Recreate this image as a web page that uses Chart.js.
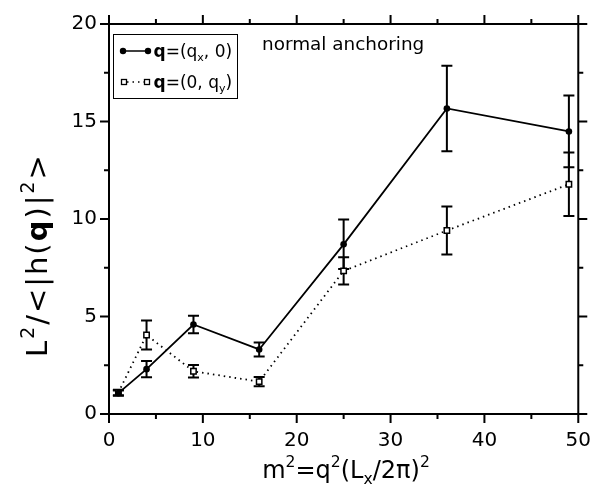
<!DOCTYPE html>
<html>
<head>
<meta charset="utf-8">
<script src="https://cdn.jsdelivr.net/npm/chart.js@4.4.0/dist/chart.umd.min.js"></script>
<style>
  html, body { margin: 0; padding: 0; background: #fff; }
  #wrap { width: 606px; height: 493px; }
</style>
</head>
<body>
<div id="wrap"><canvas id="myChart" width="606" height="493"></canvas></div>
<script>
// du lieu doc tu hinh
const m2 = [1, 4, 9, 16, 25, 36, 49];
const qxVals = [1.07, 2.30, 4.59, 3.31, 8.70, 15.67, 14.49];
const qxErr = [0.13, 0.42, 0.45, 0.36, 1.27, 2.19, 1.84];
const qyVals = [1.10, 4.05, 2.19, 1.66, 7.34, 9.41, 11.78];
const qyErr = [0.14, 0.74, 0.32, 0.24, 0.70, 1.23, 1.63];

const xTicks = [0, 10, 20, 30, 40, 50];
const yTicks = [0, 5, 10, 15, 20];
const xMinorTicks = [5, 15, 25, 35, 45];
const yMinorTicks = [2.5, 7.5, 12.5, 17.5];

const FONT = '"DejaVu Sans", sans-serif';

// ve chu co chi so tren / duoi
function drawRich(ctx, parts, x, y, size, measureOnly, spacing) {
    let cx = x;
    const sp = spacing || 0;
    parts.forEach(([t, st]) => {
        let fs = size, dy = 0, w = 'normal';
        if (st === 'sup') { fs = size * 0.65; dy = -size * 0.45; }
        if (st === 'sub') { fs = size * 0.65; dy = size * 0.25; }
        if (st === 'b') w = 'bold';
        ctx.font = w + ' ' + fs + 'px ' + FONT;
        for (const ch of t) {
            if (!measureOnly) ctx.fillText(ch, cx, y + dy);
            cx += ctx.measureText(ch).width + sp;
        }
    });
    return cx - x - sp;
}

const framePlugin = {
    id: 'frame',
    beforeDatasetsDraw(chart) {
        const ctx = chart.ctx;
        const a = chart.chartArea;
        const xs = chart.scales.x, ys = chart.scales.y;
        ctx.save();
        ctx.strokeStyle = '#000';
        ctx.lineWidth = 2;
        ctx.strokeRect(a.left, a.top, a.right - a.left, a.bottom - a.top);
        ctx.beginPath();
        const tick = (vals, len) => {
            vals.forEach(v => {
                const px = xs.getPixelForValue(v);
                ctx.moveTo(px, a.bottom); ctx.lineTo(px, a.bottom + len);
                ctx.moveTo(px, a.top); ctx.lineTo(px, a.top - len);
            });
        };
        const tickY = (vals, len) => {
            vals.forEach(v => {
                const py = ys.getPixelForValue(v);
                ctx.moveTo(a.left, py); ctx.lineTo(a.left - len, py);
                ctx.moveTo(a.right, py); ctx.lineTo(a.right + len, py);
            });
        };
        tick(xTicks, 9); tick(xMinorTicks, 5);
        tickY(yTicks, 9); tickY(yMinorTicks, 5);
        ctx.stroke();

        // thanh sai so
        chart.data.datasets.forEach((ds, i) => {
            ctx.lineWidth = 2;
            ctx.beginPath();
            ds.data.forEach((p, j) => {
                const px = xs.getPixelForValue(p.x);
                const y1 = ys.getPixelForValue(p.y + ds.err[j]);
                const y2 = ys.getPixelForValue(p.y - ds.err[j]);
                ctx.moveTo(px, y1); ctx.lineTo(px, y2);
                ctx.moveTo(px - 5.5, y1); ctx.lineTo(px + 5.5, y1);
                ctx.moveTo(px - 5.5, y2); ctx.lineTo(px + 5.5, y2);
            });
            ctx.stroke();
        });
        ctx.restore();
    },
    afterDraw(chart) {
        const ctx = chart.ctx;
        ctx.save();
        ctx.fillStyle = '#000';
        ctx.strokeStyle = '#000';
        ctx.textBaseline = 'alphabetic';
        ctx.textAlign = 'left';

        // chu thich
        ctx.lineWidth = 1;
        ctx.strokeRect(113.5, 34.5, 124, 64);
        ctx.lineWidth = 1.5;
        ctx.beginPath(); ctx.moveTo(123, 51); ctx.lineTo(148, 51); ctx.stroke();
        [123, 148].forEach(x => { ctx.beginPath(); ctx.arc(x, 51, 3.2, 0, Math.PI * 2); ctx.fill(); });
        ctx.setLineDash([1.5, 4]);
        ctx.beginPath(); ctx.moveTo(127, 82); ctx.lineTo(144, 82); ctx.stroke();
        ctx.setLineDash([]);
        ctx.lineWidth = 1.3;
        [124, 147].forEach(x => {
            ctx.fillStyle = '#fff'; ctx.fillRect(x - 2.5, 79.5, 5, 5);
            ctx.strokeRect(x - 2.5, 79.5, 5, 5);
        });
        ctx.fillStyle = '#000';
        drawRich(ctx, [['q', 'b'], ['=(q', ''], ['x', 'sub'], [', 0)', '']], 153.5, 56.5, 17);
        drawRich(ctx, [['q', 'b'], ['=(0, q', ''], ['y', 'sub'], [')', '']], 153.5, 87.5, 17);

        ctx.font = '18.4px ' + FONT;
        ctx.fillText('normal anchoring', 262, 50);

        // tieu de truc x
        const xt = [['m', ''], ['2', 'sup'], ['=q', ''], ['2', 'sup'], ['(L', ''], ['x', 'sub'], ['/2\u03c0)', ''], ['2', 'sup']];
        const wx = drawRich(ctx, xt, 0, 0, 24, true);
        drawRich(ctx, xt, 346 - wx / 2, 478, 24);

        // tieu de truc y
        const yt = [['L', ''], ['2', 'sup'], ['/<|h(', ''], ['q', 'b'], [')|', ''], ['2', 'sup'], ['>', '']];
        ctx.translate(47, 357);
        ctx.rotate(-Math.PI / 2);
        drawRich(ctx, yt, 0, 0, 29, false, 2);
        ctx.restore();
    }
};

const ctx = document.getElementById('myChart');
const myChart = new Chart(ctx.getContext('2d'), {
    type: 'scatter',
    data: {
        datasets: [{
            label: 'q=(qx, 0)',
            data: m2.map((x, i) => ({ x: x, y: qxVals[i] })),
            err: qxErr,
            showLine: true,
            borderColor: '#000',
            borderWidth: 1.8,
            pointStyle: 'circle',
            pointRadius: 3.3,
            pointBackgroundColor: '#000',
            pointBorderColor: '#000',
            pointBorderWidth: 0
        }, {
            label: 'q=(0, qy)',
            data: m2.map((x, i) => ({ x: x, y: qyVals[i] })),
            err: qyErr,
            showLine: true,
            borderColor: '#000',
            borderWidth: 1.8,
            borderDash: [1.5, 4],
            pointStyle: 'rect',
            pointRadius: 3.8,
            pointBackgroundColor: '#fff',
            pointBorderColor: '#000',
            pointBorderWidth: 1.5
        }]
    },
    options: {
        responsive: false,
        devicePixelRatio: 1,
        animation: false,
        layout: { padding: { top: 20, right: 24, left: 0, bottom: 0 } },
        plugins: {
            legend: { display: false },
            tooltip: { enabled: false }
        },
        scales: {
            x: {
                type: 'linear',
                min: 0,
                max: 50,
                afterBuildTicks: s => { s.ticks = xTicks.map(v => ({ value: v })); },
                afterFit: s => { s.height = 79; },
                grid: { display: false, drawTicks: false },
                border: { display: false },
                ticks: { color: '#000', padding: 15, maxRotation: 0, font: { family: FONT, size: 20 } }
            },
            y: {
                type: 'linear',
                min: 0,
                max: 20,
                afterBuildTicks: s => { s.ticks = yTicks.map(v => ({ value: v })); },
                afterFit: s => { s.width = 109; },
                grid: { display: false, drawTicks: false },
                border: { display: false },
                ticks: { color: '#000', padding: 12, font: { family: FONT, size: 20 } }
            }
        }
    },
    plugins: [framePlugin]
});
</script>
</body>
</html>
